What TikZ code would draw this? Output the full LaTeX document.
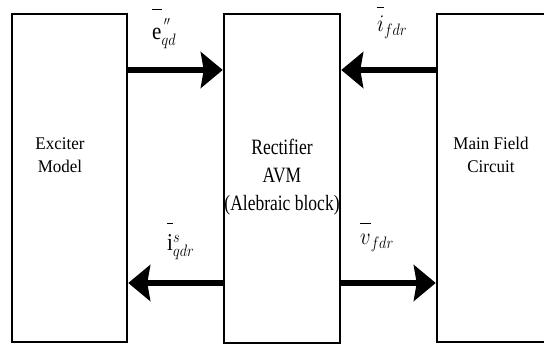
\documentclass[tikz,border=0pt]{standalone}
\usepackage{fontspec}
\setmainfont{Liberation Serif}
\usetikzlibrary{arrows.meta}
\newcommand{\hibar}[2]{{\smash{\overline{\rule{0pt}{#1}#2}}}}
\begin{document}
\begin{tikzpicture}[x=1pt,y=1pt,
  blk/.style={draw, line width=2.5pt, inner sep=0pt},
  txt/.style={font=\fontsize{17}{22}\selectfont, align=center, yscale=1.05, transform shape},
  midtxt/.style={font=\fontsize{17.5}{22.5}\selectfont, align=center, yscale=1.25, transform shape},
  lab/.style={font=\fontsize{21}{21}\selectfont, anchor=base west, inner sep=0pt, yscale=1.15, transform shape},
  flow/.style={line width=6pt, -{Stealth[length=22pt,width=36pt,inset=3pt]}}]
\useasboundingbox (0,0) rectangle (544,348);
\fill[white] (0,0) rectangle (544,348);
\clip (0,0) rectangle (544,348);
\node[blk, minimum width=115pt, minimum height=328pt] (ex) at (69.5,170) {};
\node[blk, minimum width=116pt, minimum height=329pt] (rc) at (282,169.5) {};
\node[blk, minimum width=163pt, minimum height=328pt] (mf) at (518.5,170) {};
\node[txt] (extxt) at (60,193) {Exciter\\Model};
\node[midtxt] (rctxt) at (282,171) {Rectifier\\AVM\\(Alebraic block)};
\node[txt] (mftxt) at (491,193) {Main Field\\Circuit};
\coordinate (yt) at (0,278);
\coordinate (yb) at (0,65);
\draw[flow] (ex.east |- yt) -- (rc.west |- yt);
\draw[flow] (mf.west |- yt) -- (rc.east |- yt);
\draw[flow] (rc.west |- yb) -- (ex.east |- yb);
\draw[flow] (rc.east |- yb) -- (mf.west |- yb);
\node[lab] (l1) at (152,308) {$\hibar{1.22em}{\mathrm{e}}^{\,\raisebox{0.25em}{$\scriptscriptstyle\prime\prime$}}_{qd}$};
\node[lab] (l2) at (377,316) {$\hibar{0.95em}{i}_{fdr}$};
\node[lab] (l3) at (167,97) {$\hibar{1.1em}{\mathrm{i}}^{s}_{qdr}$};
\node[lab] (l4) at (360,103) {$\hibar{0.85em}{v}_{fdr}$};
\end{tikzpicture}
\end{document}
